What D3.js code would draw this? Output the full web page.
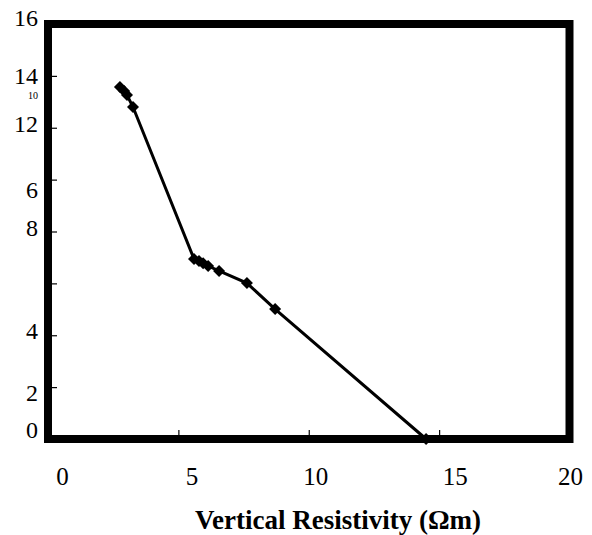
<!DOCTYPE html>
<html>
<head>
<meta charset="utf-8">
<script src="https://cdn.jsdelivr.net/npm/d3@7"></script>
<style>
  html, body { margin: 0; padding: 0; background: #fff; }
  svg { display: block; }
</style>
</head>
<body>
<script>
// ---- data ----
const resistivity = [2.76, 2.92, 3.03, 3.26, 5.60, 5.79, 5.95, 6.14, 6.56, 7.63, 8.71, 14.50];
const depth       = [13.57, 13.42, 13.26, 12.80, 6.94, 6.86, 6.78, 6.67, 6.48, 6.01, 5.01, 0.0];
const xTickValues = [0, 5, 10, 15, 20];
const xTickLabels = ["0", "5", "10", "15", "20"];
const yTickValues = [0, 2, 4, 6, 8, 10, 12, 14, 16];
const yTickLabels = ["0", "2", "4", "", "8", "6", "12", "14", "16"];
const strayLabel = { text: "10", value: 13.25 };
const xTitle = "Vertical Resistivity (Ωm)";

// ---- layout ----
const W = 592, H = 535;
const mLeft = 48, mRight = 569.5, mTop = 24, mBottom = 439;
const svg = d3.select("body").append("svg").attr("width", W).attr("height", H);

const x = d3.scaleLinear().domain([0, 20]).range([mLeft, mRight]);
const y = d3.scaleLinear().domain([0, 16]).range([mBottom, mTop]);

const font = "'Liberation Serif', 'Times New Roman', serif";

// tick marks (inward)
const xAxis = d3.axisTop(x).tickValues(xTickValues).tickSize(9).tickFormat("");
const gx = svg.append("g").attr("transform", `translate(0,${mBottom})`).call(xAxis);
gx.select(".domain").remove();
gx.selectAll("line").attr("stroke", "#000").attr("stroke-width", 1.2);

const yAxis = d3.axisRight(y).tickValues(yTickValues).tickSize(9).tickFormat("");
const gy = svg.append("g").attr("transform", `translate(${mLeft},0)`).call(yAxis);
gy.select(".domain").remove();
gy.selectAll("line").attr("stroke", "#000").attr("stroke-width", 1.2);

// frame
svg.append("rect")
  .attr("x", mLeft).attr("y", mTop)
  .attr("width", mRight - mLeft).attr("height", mBottom - mTop)
  .attr("fill", "none").attr("stroke", "#000").attr("stroke-width", 8);

// y tick labels (with the reference's irregular placement)
const yNudge = [-9.5, 6, -4, 0, -4, 10, -4, 0, -6.5];
svg.append("g").selectAll("text")
  .data(yTickValues)
  .join("text")
  .attr("x", 38)
  .attr("y", (d, i) => y(d) + yNudge[i])
  .attr("text-anchor", "end")
  .attr("dominant-baseline", "central")
  .attr("font-family", font)
  .attr("font-size", 24)
  .text((d, i) => yTickLabels[i]);

svg.append("text")
  .attr("x", 33).attr("y", y(strayLabel.value))
  .attr("text-anchor", "middle")
  .attr("dominant-baseline", "central")
  .attr("font-family", font)
  .attr("font-size", 10)
  .text(strayLabel.text);

// x tick labels
const xNudge = [14.5, 13.5, 7, 16, 1];
svg.append("g").selectAll("text")
  .data(xTickValues)
  .join("text")
  .attr("x", (d, i) => x(d) + xNudge[i])
  .attr("y", 476)
  .attr("text-anchor", "middle")
  .attr("dominant-baseline", "central")
  .attr("font-family", font)
  .attr("font-size", 25)
  .text((d, i) => xTickLabels[i]);

// x title
svg.append("text")
  .attr("x", 338).attr("y", 520)
  .attr("text-anchor", "middle")
  .attr("dominant-baseline", "central")
  .attr("font-family", font)
  .attr("font-weight", "bold")
  .attr("font-size", 27)
  .text(xTitle);

// series
const pts = resistivity.map((r, i) => [r, depth[i]]);
svg.append("path")
  .datum(pts)
  .attr("fill", "none")
  .attr("stroke", "#000")
  .attr("stroke-width", 3)
  .attr("d", d3.line().x(d => x(d[0])).y(d => y(d[1])));

const diamond = d3.symbol().type(d3.symbolSquare).size(72);
svg.append("g").selectAll("path")
  .data(pts)
  .join("path")
  .attr("d", diamond)
  .attr("fill", "#000")
  .attr("transform", d => `translate(${x(d[0])},${y(d[1])}) rotate(45)`);
</script>
</body>
</html>
